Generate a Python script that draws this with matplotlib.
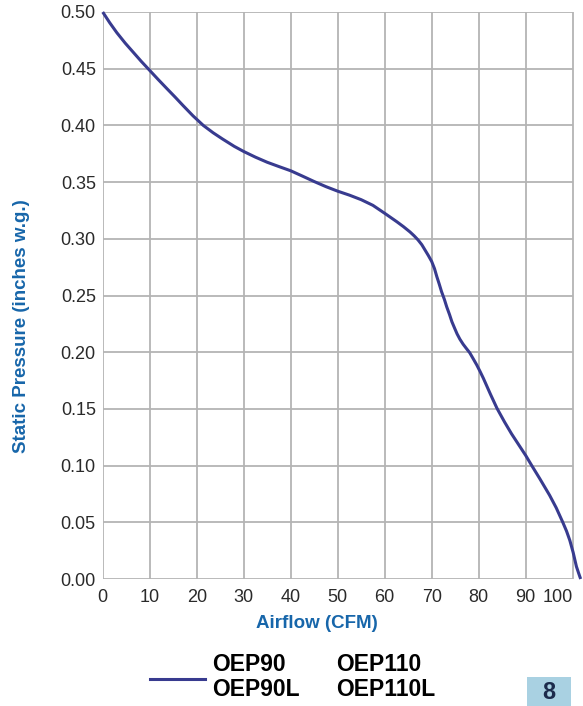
import matplotlib
matplotlib.use("Agg")
import matplotlib.pyplot as plt
from matplotlib.patches import Rectangle

plt.rcParams['font.family'] = ['Liberation Sans', 'DejaVu Sans']

# curve
airflow = [0, 1.5, 3.0, 4.8, 6.5, 8.2, 10, 11.8, 13.6, 15.4, 17.1, 19.2, 21.4,
           23.5, 25.5, 28, 30, 32.5, 35, 37.5, 40, 42.5, 45, 47.5, 50, 52.5,
           55, 57.5, 60, 62.6, 64, 65.4, 66.3, 67.1, 67.9, 68.6,
           69.3, 70, 70.6, 71.1, 71.6, 72.1, 72.7, 73.2, 73.8, 74.3, 74.9,
           75.4, 76.0, 76.7, 77.4, 78.1, 78.8, 79.6, 80.3, 81.0, 82.5, 83.9,
           85.5, 87, 88.5, 90, 91.3, 93, 95.1, 96.5, 97.9, 98.7, 99.4, 100.1,
           100.8, 101.3, 101.7]
pressure = [0.500, 0.4905, 0.4818, 0.4725, 0.4645, 0.4565, 0.4485, 0.4405,
            0.4327, 0.425, 0.4175, 0.4085, 0.400, 0.3935, 0.388, 0.3815, 0.377,
            0.372, 0.3675, 0.3637, 0.360, 0.3553, 0.3505, 0.346, 0.342, 0.3385,
            0.3345, 0.3295, 0.3225, 0.315, 0.3107, 0.306, 0.3025, 0.299,
            0.2948, 0.290, 0.2852, 0.280, 0.2737, 0.2666, 0.2602, 0.2534,
            0.2466, 0.240, 0.2332, 0.2269, 0.2210, 0.2162, 0.2115, 0.2070,
            0.2032, 0.1995, 0.1945, 0.1887, 0.1830, 0.177, 0.1630, 0.1505,
            0.1385, 0.128, 0.1185, 0.109, 0.100, 0.0885, 0.0738, 0.0628, 0.050,
            0.0422, 0.034, 0.0235, 0.011, 0.0048, 0.0]

xticks = [0, 10, 20, 30, 40, 50, 60, 70, 80, 90, 100]
yticks = [0.0, 0.05, 0.10, 0.15, 0.20, 0.25, 0.30, 0.35, 0.40, 0.45, 0.50]
models = ["OEP90\nOEP90L", "OEP110\nOEP110L"]

W, H = 583, 706
fig = plt.figure(figsize=(W / 100, H / 100), dpi=100)
ax = fig.add_axes([102.7 / W, (H - 579) / H, (583 - 102.7) / W, (579 - 12) / H])
ax.set_xlim(0, 102.2)
ax.set_ylim(0, 0.5)

grid_col = '#b4b4b4'
ax.vlines(xticks, 0, 0.5, color=grid_col, lw=1.3, zorder=1)
ax.hlines(yticks, 0, 100, color=grid_col, lw=1.3, zorder=1)

ax.plot(airflow, pressure, color='#383b8f', lw=2.2, clip_on=False, zorder=3,
        solid_capstyle='butt', solid_joinstyle='round')

for s in ax.spines.values():
    s.set_visible(False)

ax.set_xticks(xticks)
ax.set_xticklabels([str(t) for t in xticks])
ax.set_yticks(yticks)
ax.set_yticklabels([f"{t:.2f}" for t in yticks])
ax.tick_params(length=0, labelsize=13, colors='#2a2a2a', pad=5)
ax.tick_params(axis='x', pad=7)
ax.get_xticklabels()[-1].set_horizontalalignment('right')
ax.get_xticklabels()[-1].set_x(101.5)

blue = '#1766aa'
fig.text(317 / W, 1 - 624 / H, "Airflow (CFM)", color=blue, fontsize=13.5,
         fontweight='bold', ha='center', va='center')
fig.text(22 / W, 1 - 326 / H, "Static Pressure (inches w.g.)", color=blue,
         fontsize=13.5, fontweight='bold', ha='center', va='center', rotation=90)

# legend
fig.add_artist(plt.Line2D([150 / W, 205 / W], [1 - 679 / H, 1 - 679 / H],
                          color='#383b8f', lw=2.2))
fig.text(212 / W, 1 - 677 / H, models[0], fontsize=16.5, fontweight='bold',
         ha='left', va='center', linespacing=1.1)
fig.text(336 / W, 1 - 677 / H, models[1], fontsize=16.5, fontweight='bold',
         ha='left', va='center', linespacing=1.1)

# page badge
fig.add_artist(Rectangle((527 / W, 0), 44 / W, (706 - 677) / H,
                         transform=fig.transFigure, color='#a9d1e2', lw=0))
fig.text(549 / W, 2 / H, "8", fontsize=17, fontweight='bold',
         color='#1c2b4c', ha='center', va='bottom')

fig.savefig("out.png", dpi=100)
